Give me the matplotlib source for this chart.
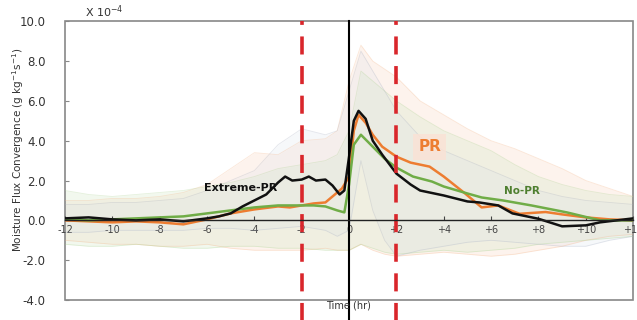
import matplotlib.pyplot as plt
from matplotlib.patches import Rectangle

# Extreme-PR (black)
t_ext = [-12, -11, -10, -9, -8, -7, -6, -5.5, -5, -4.5, -4, -3.5, -3, -2.7, -2.4, -2, -1.7, -1.4, -1,
         -0.7, -0.4, -0.2, 0, 0.2, 0.4, 0.7, 1, 1.4, 2, 2.6, 3, 4, 5, 5.5, 6.3, 6.9, 8, 9, 10, 10.6, 12]
v_ext = [0.1, 0.15, 0.05, 0.0, 0.05, -0.05, 0.1, 0.2, 0.35, 0.7, 1.0, 1.3, 1.9, 2.2, 2.0, 2.05, 2.2, 2.0, 2.05,
         1.75, 1.3, 1.5, 3.2, 5.0, 5.5, 5.1, 4.0, 3.3, 2.35, 1.8, 1.5, 1.25, 0.95, 0.9, 0.75, 0.35, 0.08, -0.3, -0.25, -0.1, 0.1]

# PR (orange)
t_pr = [-12, -11, -10, -9, -8, -7, -6, -5.5, -5, -4, -3, -2.5, -2, -1.5, -1, -0.6, -0.3, 0, 0.2, 0.4, 0.7,
        1, 1.4, 2, 2.6, 3.4, 4, 4.9, 5.6, 6.3, 7.2, 8.3, 9, 10, 11, 12]
v_pr = [0.0, -0.05, -0.1, -0.05, -0.1, -0.2, 0.05, 0.2, 0.35, 0.55, 0.7, 0.65, 0.75, 0.85, 0.9, 1.3, 1.6, 2.2, 4.5, 5.3, 4.9,
        4.3, 3.7, 3.2, 2.9, 2.7, 2.2, 1.35, 0.65, 0.75, 0.33, 0.42, 0.3, 0.15, 0.05, 0.0]

# No-PR (green)
t_no = [-12, -11, -10, -9, -8, -7, -6, -5, -4, -3, -2, -1.5, -1, -0.5, -0.2, 0, 0.2, 0.5, 1, 1.5, 2,
        2.7, 3.5, 4, 5, 5.6, 6.5, 7.7, 9.2, 10.6, 12]
v_no = [0.05, 0.0, 0.05, 0.1, 0.15, 0.2, 0.35, 0.5, 0.65, 0.75, 0.75, 0.75, 0.7, 0.5, 0.4, 1.8, 3.8, 4.3, 3.7, 3.1, 2.65,
        2.2, 1.95, 1.7, 1.35, 1.15, 1.0, 0.75, 0.4, 0.0, 0.0]

# spread bands
t_band = [-12, -11, -10, -9, -8, -7, -6, -5, -4, -3, -2, -1, -0.5, 0, 0.5, 1, 1.5, 2, 3, 4, 5, 6, 7, 8, 9, 10, 11, 12]
no_hi = [1.5, 1.3, 1.2, 1.3, 1.4, 1.5, 1.7, 1.9, 2.2, 2.6, 2.8, 3.0, 3.3, 4.5, 7.5, 7.0, 6.5, 6.0, 5.2, 4.5, 4.0, 3.5, 2.8, 2.2, 1.8, 1.5, 1.3, 1.2]
no_lo = [-1.2, -1.3, -1.3, -1.2, -1.3, -1.4, -1.4, -1.3, -1.3, -1.4, -1.4, -1.5, -1.5, -1.5, -1.2, -1.4, -1.6, -1.7, -1.6, -1.5, -1.6, -1.5, -1.4, -1.2, -1.1, -1.0, -0.9, -0.8]
pr_hi = [1.0, 1.0, 1.1, 1.1, 1.2, 1.4, 1.8, 2.6, 3.4, 3.3, 4.0, 4.1, 4.5, 7.0, 8.8, 8.0, 7.6, 7.2, 6.0, 5.3, 4.6, 4.0, 3.6, 3.1, 2.6, 2.0, 1.6, 1.2]
pr_lo = [-1.0, -1.1, -1.2, -1.2, -1.3, -1.3, -1.2, -1.4, -1.5, -1.5, -1.5, -1.4, -1.5, -1.5, -1.2, -1.5, -1.7, -1.8, -1.7, -1.6, -1.7, -1.8, -1.7, -1.5, -1.3, -1.0, -0.8, -0.7]
ex_hi = [0.8, 0.8, 0.9, 0.9, 1.0, 1.1, 1.5, 2.0, 2.5, 3.8, 4.6, 4.3, 4.5, 6.5, 8.5, 7.5, 6.5, 5.5, 4.2, 3.5, 3.0, 2.5, 2.0, 1.5, 1.2, 1.0, 0.9, 0.8]
ex_lo = [-0.6, -0.6, -0.5, -0.5, -0.5, -0.5, -0.4, -0.4, -0.5, -0.4, -0.3, -0.5, -0.8, -0.5, 3.0, 0.5, -1.0, -1.8, -1.5, -1.3, -1.1, -1.0, -1.1, -1.2, -1.3, -1.3, -1.0, -0.8]

x_ticks = list(range(-12, 13, 2))
x_labels = ['-12', '-10', '-8', '-6', '-4', '-2', '0', '+2', '+4', '+6', '+8', '+10', '+12']
y_ticks = [-4, -2, 0, 2, 4, 6, 8, 10]

c_black = '#111111'
c_orange = '#ED7D31'
c_green = '#70AD47'

fig = plt.figure(figsize=(6.37, 3.2), dpi=100)
ax = fig.add_axes([0.102, 0.0625, 0.892, 0.871])

# bands
ax.fill_between(t_band, pr_lo, pr_hi, color='#F8CBAD', alpha=0.22, lw=0)
ax.fill_between(t_band, no_lo, no_hi, color='#D5E8C8', alpha=0.3, lw=0)
ax.fill_between(t_band, ex_lo, ex_hi, color='#D6DCEA', alpha=0.2, lw=0)
for hi, lo, c in [(pr_hi, pr_lo, '#F4B183'), (no_hi, no_lo, '#A9D18E'), (ex_hi, ex_lo, '#A6AEC0')]:
    ax.plot(t_band, hi, color=c, lw=0.6, alpha=0.3)
    ax.plot(t_band, lo, color=c, lw=0.6, alpha=0.3)

# mean lines
ax.plot(t_pr, v_pr, color=c_orange, lw=1.8)
ax.plot(t_no, v_no, color=c_green, lw=1.8)
ax.plot(t_ext, v_ext, color=c_black, lw=1.8)

# event markers
ax.axvline(0, ymin=-0.075, ymax=1.0, color='black', lw=1.5, clip_on=False)
for xv in (-2, 2):
    ax.axvline(xv, ymin=-0.075, ymax=1.0, color='#D9262B', lw=2.6, dashes=(5, 3.2), clip_on=False)

ax.set_xlim(-12, 12)
ax.set_ylim(-4, 10)
ax.set_xticks(x_ticks)
ax.set_xticklabels(x_labels)
ax.set_yticks(y_ticks)
ax.set_yticklabels(['%.1f' % v for v in y_ticks])

for s in ('top', 'right', 'left'):
    ax.spines[s].set_visible(False)
ax.spines['bottom'].set_position(('data', 0))
ax.spines['bottom'].set_color('#222222')
ax.spines['bottom'].set_linewidth(1.0)
ax.tick_params(axis='x', direction='in', length=3, pad=3, labelsize=7, labelcolor='#444444', color='#444444')
ax.tick_params(axis='y', direction='in', length=3, pad=14, labelsize=8.5, labelcolor='#333333', color='#888888')
ax.add_patch(Rectangle((0, 0), 1, 1, transform=ax.transAxes, fill=False, edgecolor='#888888', lw=1.2, clip_on=False))

ax.text(-4.6, 1.65, 'Extreme-PR', color=c_black, fontsize=8, fontweight='bold', ha='center', va='center')
ax.text(3.4, 3.7, 'PR', color=c_orange, fontsize=11, fontweight='bold', ha='center', va='center',
        bbox=dict(boxstyle='square,pad=0.35', facecolor='#FBE2D5', edgecolor='none', alpha=0.8))
ax.text(7.3, 1.45, 'No-PR', color='#4E7F2F', fontsize=7.5, fontweight='bold', ha='center', va='center')

fig.text(0.134, 0.962, 'X 10$^{-4}$', fontsize=8, color='#333333', ha='left', va='center')
fig.text(0.028, 0.53, 'Moisture Flux Convergence (g kg$^{-1}$s$^{-1}$)', fontsize=7.5, color='#333333',
         rotation=90, ha='center', va='center')
fig.text(0.547, 0.045, 'Time (hr)', fontsize=7, color='#333333', ha='center', va='center')

fig.savefig('out.png', dpi=100)
